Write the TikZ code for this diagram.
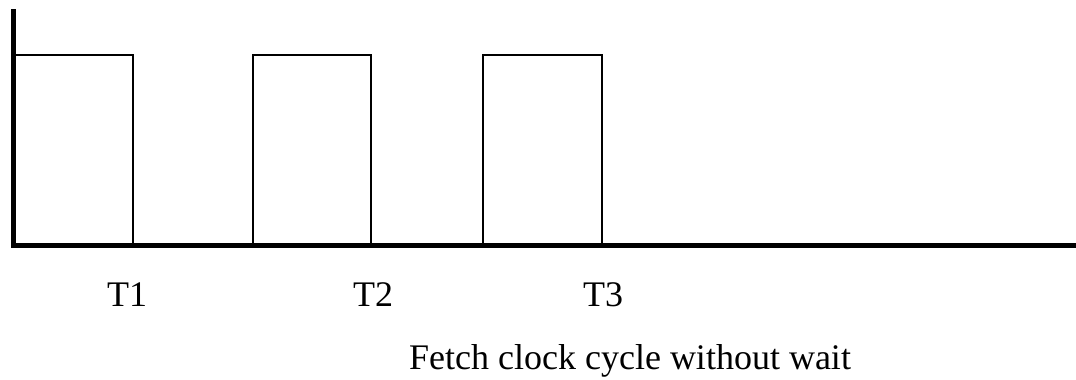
\documentclass[tikz,border=0pt]{standalone}
\usepackage{fontspec}
\setmainfont{Liberation Serif}
\begin{document}
\begin{tikzpicture}[x=1pt,y=1pt,
  axis/.style={line width=5pt,line cap=rect},
  pulse/.style={draw,line width=2pt},
  lbl/.style={anchor=base,inner sep=0pt,font=\fontsize{36}{40}\selectfont}]
\useasboundingbox (0,0) rectangle (1076,380);
% clock pulses
\coordinate (o) at (13,134);
\draw[pulse] (15,136) rectangle (133,325);
\draw[pulse] (253,136) rectangle (371,325);
\draw[pulse] (483,136) rectangle (602,325);
% axes
\coordinate (ytop) at (13,368);
\coordinate (xend) at (1076,134);
\draw[axis] (ytop) -- (o) -- (xend);
% labels
\node[lbl] (t1) at (127,73) {T1};
\node[lbl] (t2) at (373,73) {T2};
\node[lbl] (t3) at (603,73) {T3};
\node[lbl] (cap) at (630,10) {Fetch clock cycle without wait};
\end{tikzpicture}
\end{document}
